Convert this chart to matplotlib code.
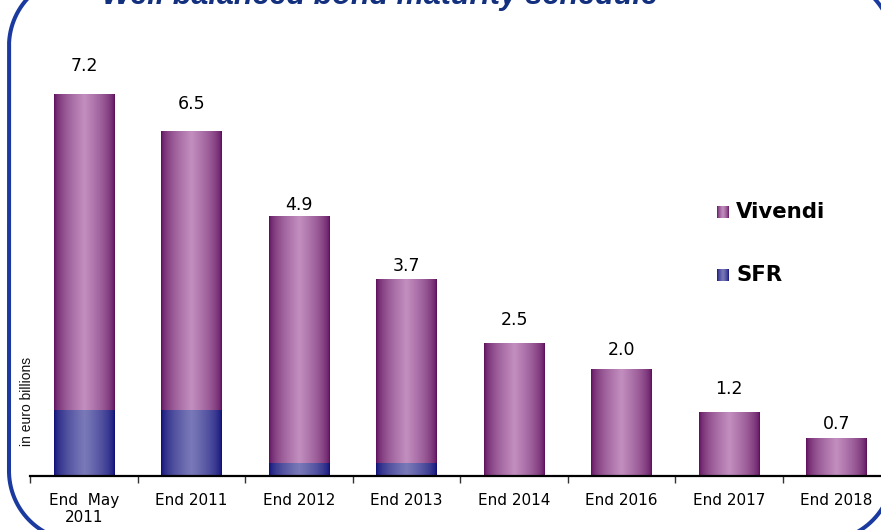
import numpy as np
import matplotlib
matplotlib.use("Agg")
import matplotlib.pyplot as plt
from matplotlib.lines import Line2D
from matplotlib.colors import to_rgb

# ---- data ----
categories = ["End  May\n2011", "End 2011", "End 2012", "End 2013",
              "End 2014", "End 2016", "End 2017", "End 2018"]
totals = [7.2, 6.5, 4.9, 3.7, 2.5, 2.0, 1.2, 0.7]
sfr = [1.25, 1.25, 0.25, 0.25, 0.0, 0.0, 0.0, 0.0]
total_labels = ["7.2", "6.5", "4.9", "3.7", "2.5", "2.0", "1.2", "0.7"]
series_names = ["Vivendi", "SFR"]

vivendi = [t - s for t, s in zip(totals, sfr)]

# label gaps above bar tops (pixels), styling only
label_gap_px = [28, 27, 11, 14, 23, 20, 23, 15]

W, H, DPI = 881, 530, 100
fig = plt.figure(figsize=(W / DPI, H / DPI), dpi=DPI)
fig.patch.set_facecolor("white")

ax = fig.add_axes([30.25 / W, 54 / H, 860 / W, 424.5 / H])


def gradient(dark, light, n=128):
    t = np.linspace(0, 1, n)
    f = np.clip(1 - np.abs(t - 0.5) * 2, 0, 1) ** 0.55
    d = np.array(to_rgb(dark))
    l = np.array(to_rgb(light))
    cols = d[None, :] + (l - d)[None, :] * f[:, None]
    return cols[None, :, :]


purple_grad = gradient("#5a0a58", "#c28ebf")
blue_grad = gradient("#0a0a74", "#7a7ab9")

x = np.arange(len(categories))
bw = 0.56
b_sfr = ax.bar(x, sfr, width=bw, color="none", edgecolor="none")
b_viv = ax.bar(x, vivendi, width=bw, bottom=sfr, color="none", edgecolor="none")

for bars, grad in ((b_sfr, blue_grad), (b_viv, purple_grad)):
    for p in bars:
        h = p.get_height()
        if h <= 0:
            continue
        x0 = p.get_x()
        y0 = p.get_y()
        ax.imshow(grad, extent=[x0, x0 + p.get_width(), y0, y0 + h],
                  aspect="auto", interpolation="bilinear", zorder=2)

ax.set_xlim(-0.5, len(categories) - 0.5)
ax.set_ylim(0, 8)

for i, (t, lab) in enumerate(zip(totals, total_labels)):
    ax.annotate(lab, (x[i], t), xytext=(0, label_gap_px[i] * 0.72),
                textcoords="offset points", ha="center", va="center",
                fontsize=12.5, family="DejaVu Sans", color="black")

for s in ("top", "right", "left"):
    ax.spines[s].set_visible(False)
ax.spines["bottom"].set_linewidth(1.6)
ax.set_yticks([])
ax.set_xticks(x)
ax.set_xticklabels(categories, fontsize=11, family="DejaVu Sans",
                   linespacing=1.2)
ax.set_xticks(np.arange(-0.5, len(categories), 1), minor=True)
ax.tick_params(axis="x", which="major", length=0, pad=12)
ax.tick_params(axis="x", which="minor", length=5, width=1, color="#333333")

# legend (manual, gradient swatches)
for name, grad, yc in ((series_names[0], purple_grad, 212),
                       (series_names[1], blue_grad, 275)):
    sw = fig.add_axes([717 / W, 1 - (yc + 6) / H, 12 / W, 12 / H])
    sw.imshow(grad, aspect="auto", interpolation="bilinear")
    sw.axis("off")
    fig.text(736 / W, 1 - yc / H, name, fontsize=15.3, fontweight="bold",
             family="DejaVu Sans", va="center", ha="left", color="black")

# y label
fig.text(27 / W, 1 - 401 / H, "in euro billions", rotation=90,
         va="center", ha="center", fontsize=10,
         family=["Liberation Sans Narrow", "Liberation Sans"], color="#111111")

# title (cropped at top)
fig.text(380 / W, 1 - 4 / H, "Well balanced bond maturity schedule",
         fontsize=22, fontweight="bold", fontstyle="italic",
         family="Liberation Sans", color="#13307f", ha="center", va="baseline")

# rounded frame (pixel geometry, top-down)
L, R, T, B, r = 9.0, 893.0, -24.0, 541.0, 70.0
pts = []
corners = [((R - r, T + r), -90, 0), ((R - r, B - r), 0, 90),
           ((L + r, B - r), 90, 180), ((L + r, T + r), 180, 270)]
for (cx, cy), a0, a1 in corners:
    a = np.radians(np.linspace(a0, a1, 60))
    pts.extend(zip(cx + r * np.cos(a), cy + r * np.sin(a)))
pts.append(pts[0])
pts = np.array(pts)
fig.add_artist(Line2D(pts[:, 0] / W, 1 - pts[:, 1] / H,
                      transform=fig.transFigure, color="#1a3a9f",
                      linewidth=2.9, solid_joinstyle="round"))

fig.savefig("out.png", dpi=DPI)
